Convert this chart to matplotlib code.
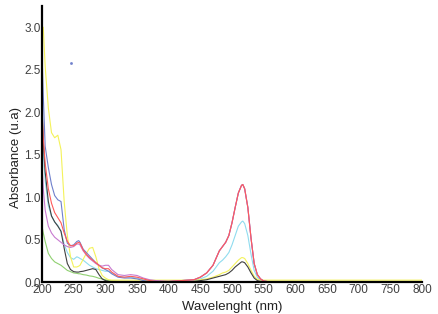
import matplotlib
matplotlib.use("Agg")
import matplotlib.pyplot as plt

wavelength = [200, 202, 205, 210, 215, 220, 225, 230, 235, 240, 245, 250, 255, 258, 260, 265, 270,
              275, 280, 285, 290, 295, 300, 305, 310, 320, 330, 340, 350, 360, 370, 380, 400,
              420, 440, 450, 460, 470, 480, 485, 490, 495, 500, 505, 510, 515, 517, 520, 525,
              530, 535, 540, 545, 550, 555, 560, 600, 700, 800]

yellow = [3.00, 3.00, 2.54, 2.05, 1.76, 1.70, 1.73, 1.56, 0.95, 0.55, 0.30, 0.18, 0.18, 0.19, 0.20, 0.27, 0.34,
          0.40, 0.41, 0.30, 0.16, 0.08, 0.05, 0.03, 0.025, 0.025, 0.025, 0.025, 0.025, 0.025, 0.025, 0.025, 0.025,
          0.025, 0.025, 0.03, 0.04, 0.06, 0.09, 0.11, 0.12, 0.14, 0.18, 0.22, 0.26, 0.29, 0.29, 0.28, 0.22,
          0.14, 0.07, 0.035, 0.025, 0.025, 0.025, 0.025, 0.025, 0.025, 0.025]

blue = [2.70, 2.20, 1.60, 1.35, 1.15, 1.02, 0.97, 0.95, 0.62, 0.46, 0.43, 0.44, 0.48, 0.49, 0.47, 0.39, 0.35,
        0.31, 0.27, 0.23, 0.20, 0.17, 0.15, 0.13, 0.10, 0.06, 0.05, 0.05, 0.04, 0.02, 0.01, 0.01, 0.01,
        0.02, 0.03, 0.06, 0.11, 0.20, 0.37, 0.42, 0.47, 0.55, 0.70, 0.88, 1.05, 1.14, 1.15, 1.10, 0.88,
        0.52, 0.22, 0.09, 0.04, 0.015, 0.01, 0.0, 0.0, 0.0, 0.0]

red = [2.00, 1.70, 1.40, 1.10, 0.93, 0.82, 0.76, 0.70, 0.58, 0.48, 0.43, 0.43, 0.46, 0.47, 0.46, 0.38, 0.33,
       0.29, 0.26, 0.23, 0.20, 0.17, 0.16, 0.16, 0.12, 0.07, 0.06, 0.07, 0.06, 0.04, 0.02, 0.01, 0.01,
       0.02, 0.03, 0.06, 0.11, 0.20, 0.37, 0.42, 0.47, 0.55, 0.70, 0.88, 1.05, 1.14, 1.15, 1.10, 0.88,
       0.52, 0.22, 0.09, 0.04, 0.015, 0.01, 0.0, 0.0, 0.0, 0.0]

violet = [1.40, 1.10, 0.85, 0.66, 0.58, 0.53, 0.50, 0.47, 0.44, 0.42, 0.41, 0.42, 0.45, 0.45, 0.44, 0.37, 0.32,
          0.28, 0.25, 0.22, 0.20, 0.19, 0.20, 0.20, 0.15, 0.09, 0.08, 0.09, 0.08, 0.05, 0.03, 0.02, 0.01,
          0.02, 0.03, 0.06, 0.11, 0.20, 0.37, 0.42, 0.47, 0.55, 0.70, 0.88, 1.05, 1.14, 1.15, 1.10, 0.88,
          0.52, 0.22, 0.09, 0.04, 0.015, 0.01, 0.0, 0.0, 0.0, 0.0]

cyan = [1.90, 1.50, 1.20, 0.90, 0.78, 0.71, 0.67, 0.60, 0.45, 0.35, 0.29, 0.27, 0.30, 0.29, 0.28, 0.26, 0.23,
        0.20, 0.18, 0.16, 0.15, 0.14, 0.13, 0.13, 0.11, 0.07, 0.06, 0.06, 0.05, 0.03, 0.02, 0.01, 0.01,
        0.01, 0.02, 0.04, 0.07, 0.13, 0.23, 0.26, 0.30, 0.35, 0.44, 0.55, 0.66, 0.71, 0.72, 0.69, 0.55,
        0.33, 0.14, 0.06, 0.025, 0.01, 0.005, 0.0, 0.0, 0.0, 0.0]

black = [2.10, 1.65, 1.30, 0.95, 0.78, 0.71, 0.66, 0.60, 0.40, 0.22, 0.15, 0.125, 0.12, 0.12, 0.125, 0.13, 0.14,
         0.15, 0.16, 0.15, 0.09, 0.04, 0.02, 0.01, 0.0, 0.0, 0.0, 0.0, 0.0, 0.0, 0.0, 0.0, 0.0,
         0.0, 0.01, 0.02, 0.03, 0.05, 0.07, 0.08, 0.09, 0.11, 0.14, 0.18, 0.21, 0.24, 0.24, 0.23, 0.18,
         0.11, 0.05, 0.02, 0.01, 0.0, 0.0, 0.0, 0.0, 0.0, 0.0]

green = [0.66, 0.58, 0.48, 0.34, 0.28, 0.24, 0.22, 0.20, 0.17, 0.14, 0.125, 0.11, 0.105, 0.10, 0.10, 0.09, 0.085,
         0.075, 0.07, 0.06, 0.047, 0.04, 0.03, 0.02, 0.015, 0.01, 0.005, 0.0, 0.0, 0.0, 0.0, 0.0, 0.0,
         0.0, 0.0, 0.0, 0.0, 0.0, 0.0, 0.0, 0.0, 0.0, 0.0, 0.0, 0.0, 0.0, 0.0, 0.0, 0.0,
         0.0, 0.0, 0.0, 0.0, 0.0, 0.0, 0.0, 0.0, 0.0, 0.0]

series = [
    (green, "#8fd070"),
    (cyan, "#8fdcef"),
    (yellow, "#f4f25a"),
    (black, "#404040"),
    (blue, "#6f80cc"),
    (violet, "#c77ad0"),
    (red, "#ff5a5a"),
]

x_ticks = [200, 250, 300, 350, 400, 450, 500, 550, 600, 650, 700, 750, 800]
y_ticks = [0.0, 0.5, 1.0, 1.5, 2.0, 2.5, 3.0]

plt.rcParams['font.family'] = ['Liberation Sans', 'DejaVu Sans']
fig = plt.figure(figsize=(4.38, 3.14), dpi=100)
ax = fig.add_axes([0.0959, 0.101, 0.8676, 0.88])

for vals, col in series:
    ax.plot(wavelength, vals, color=col, linewidth=0.8)

ax.plot([245], [2.58], marker='s', markersize=0.9, color="#6f80cc", linestyle='none')

ax.set_xlim(200, 800)
ax.set_ylim(0, 3.25)
ax.set_xticks(x_ticks)
ax.set_yticks(y_ticks)
ax.set_yticklabels([f"{v:.1f}" for v in y_ticks])
ax.tick_params(length=0, labelsize=8.5, labelcolor="#404040", pad=1)
for s in ["top", "right"]:
    ax.spines[s].set_visible(False)
for s in ["left", "bottom"]:
    ax.spines[s].set_linewidth(1.6)
    ax.spines[s].set_color("black")

ax.set_xlabel("Wavelenght (nm)", fontsize=9.5, color="#222222", labelpad=4)
ax.set_ylabel("Absorbance (u.a)", fontsize=9.5, color="#222222", labelpad=3)
ax.yaxis.set_label_coords(-0.052, 0.45)

fig.savefig("out.png", dpi=100)
